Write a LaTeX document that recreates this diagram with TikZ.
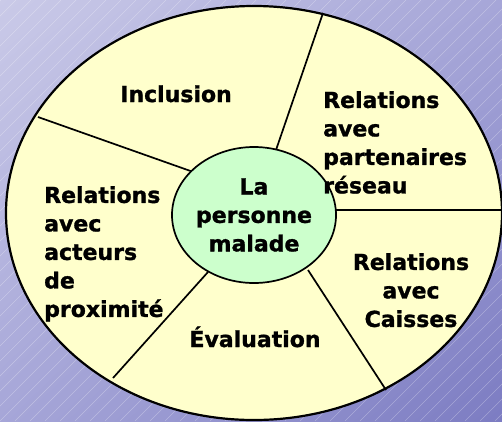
\documentclass[tikz,border=0pt]{standalone}
\usepackage{fontspec}
\setmainfont[BoldFeatures={FakeBold=1.2}]{DejaVu Sans}
\usepackage{tikz}
\usetikzlibrary{shapes.geometric, shadings, arrows.meta}
\definecolor{fondoA}{HTML}{CACAE8}
\definecolor{fondoB}{HTML}{A6A6D8}
\definecolor{fondoC}{HTML}{7C7CC2}
\definecolor{giallo}{HTML}{FFFFCC}
\definecolor{verde}{HTML}{CCFFCC}
\tikzset{
	testo/.style={font=\bfseries\fontsize{22}{28.5}\selectfont, inner sep=0pt, text=black},
	settore/.style={line width=1.7pt, black}
}

\begin{document}
\begin{tikzpicture} [x=1pt, y=-1pt, >=latex]
	\useasboundingbox (0,0) rectangle (502,421);
	%%%	Sfondo
	\begin{scope}
		\clip (0,0) rectangle (502,421);
		\shade[upper left=fondoA, upper right=fondoB, lower left=fondoB, lower right=fondoC] (0,0) rectangle (502,421);
		\foreach \k in {-420,-405,...,500}
		\draw[white, opacity=0.3, line width=0.5pt] (\k,421) -- (\k+421,0);
	\end{scope}
	%%%	Disegno
	\fill[giallo] (254,213) ellipse [x radius=248pt, y radius=207pt];
	\draw[settore] (38,117) -- (199,174);
	\draw[settore] (323,13) -- (276,150);
	\draw[settore] (333,210) -- (502,210);
	\draw[settore] (308,270) -- (386,390);
	\draw[settore] (208,272) -- (113,378);
	\draw[line width=2.2pt] (254,213) ellipse [x radius=248pt, y radius=207pt];
	\node[testo, ellipse, draw, line width=1.7pt, fill=verde, minimum width=154pt, minimum height=136pt, align=center] (persona) at (254,215) {La\\personne\\malade};
	%%%	Testi
	\node[testo, anchor=base] (inclusion) at (176,102) {Inclusion};
	\node[testo, anchor=north west, align=left] (reseau) at (323,91) {Relations\\avec\\partenaires\\réseau};
	\node[testo, anchor=north west, align=left] (proximite) at (44,186) {Relations\\avec\\acteurs\\de\\proximité};
	\node[testo, anchor=north, align=center] (caisses) at (411,253) {Relations\\avec\\Caisses};
	\node[testo, anchor=base] (evaluation) at (255,347) {Évaluation};
\end{tikzpicture}
\end{document}
